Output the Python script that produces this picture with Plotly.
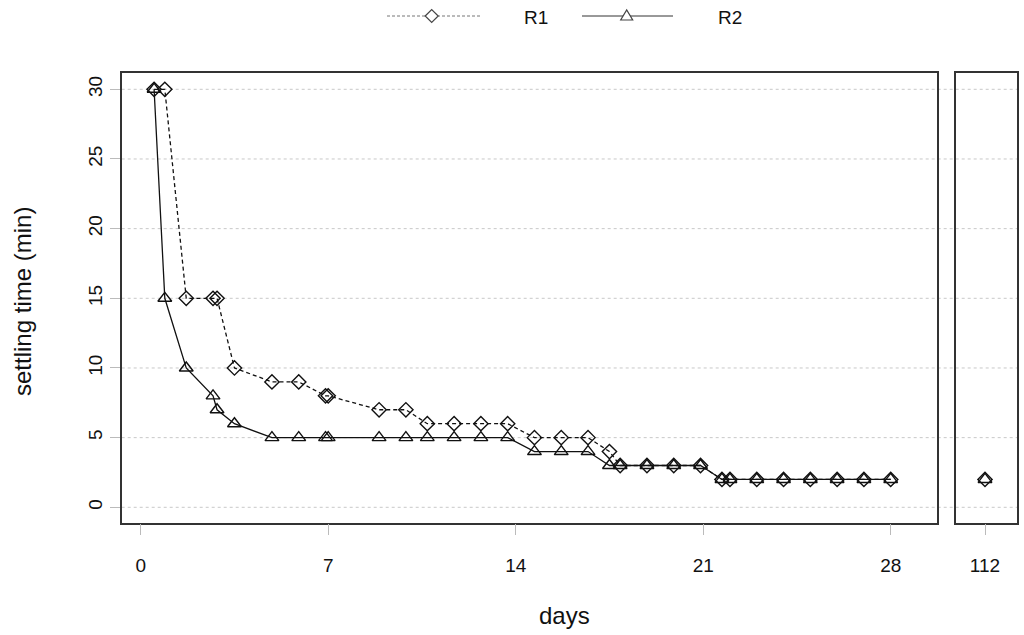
import plotly.graph_objects as go

# ---- data ----
days = [0.5, 0.9, 1.7, 2.7, 2.85, 3.5, 4.9, 5.9, 6.9, 7.0, 8.9, 9.9, 10.7, 11.7,
        12.7, 13.7, 14.7, 15.7, 16.7, 17.5, 17.9, 18.9, 19.9, 20.9, 21.7, 22.0,
        23, 24, 25, 26, 27, 28]
r1 = [30, 30, 15, 15, 15, 10, 9, 9, 8, 8, 7, 7, 6, 6, 6, 6, 5, 5, 5, 4, 3, 3, 3, 3,
      2, 2, 2, 2, 2, 2, 2, 2]
r2 = [30, 15, 10, 8, 7, 6, 5, 5, 5, 5, 5, 5, 5, 5, 5, 5, 4, 4, 4, 3, 3, 3, 3, 3,
      2, 2, 2, 2, 2, 2, 2, 2]
late_day = [112]
late_r1 = [2]
late_r2 = [2]
x_ticks = [0, 7, 14, 21, 28]
y_ticks = [0, 5, 10, 15, 20, 25, 30]
series_names = ["R1", "R2"]

W, H = 1024, 635
def px(x):
    return x / W
def py(y):
    return 1 - y / H

FONT = "Liberation Sans, Arial, sans-serif"
L1, R1p = 121.7, 937.3
L2, R2p = 955.7, 1017.3
TOP, BOT = 73.3, 522.7

fig = go.Figure()

r1_style = dict(mode="lines+markers", line=dict(color="#111", width=1.3, dash="4px,3px"),
                marker=dict(symbol="diamond-open", size=11, color="#111", line=dict(width=1.4)))
r2_style = dict(mode="lines+markers", line=dict(color="#111", width=1.3),
                marker=dict(symbol="triangle-up-open", size=12, color="#111", line=dict(width=1.4)))

fig.add_trace(go.Scatter(x=days, y=r1, name=series_names[0], xaxis="x", yaxis="y", **r1_style))
fig.add_trace(go.Scatter(x=days, y=r2, name=series_names[1], xaxis="x", yaxis="y", **r2_style))
fig.add_trace(go.Scatter(x=late_day, y=late_r1, name=series_names[0], xaxis="x2", yaxis="y2", **r1_style))
fig.add_trace(go.Scatter(x=late_day, y=late_r2, name=series_names[1], xaxis="x2", yaxis="y2", **r2_style))

ppu = (890.7 - 140.7) / 28.0
xr1 = [(L1 - 140.7) / ppu, (R1p - 140.7) / ppu]
xr2 = [112 - (985 - L2) / ppu, 112 + (R2p - 985) / ppu]
ypu = (507.3 - 89.3) / 30.0
yr = [-(BOT - 507.3) / ypu, (507.3 - TOP) / ypu]

axis_common = dict(showline=True, mirror=True, linecolor="#333", linewidth=1.5,
                   showgrid=False, zeroline=False,
                   tickfont=dict(family=FONT, size=19, color="#111"))

fig.update_layout(
    width=W, height=H,
    margin=dict(l=0, r=0, t=0, b=0),
    paper_bgcolor="white", plot_bgcolor="rgba(0,0,0,0)",
    showlegend=False,
    xaxis=dict(domain=[px(L1), px(R1p)], range=xr1, anchor="y",
               tickvals=x_ticks, ticktext=[str(v) for v in x_ticks],
               ticks="outside", ticklen=11, tickcolor="#bbb", tickwidth=1,
               ticklabelstandoff=14, **axis_common),
    yaxis=dict(domain=[py(BOT), py(TOP)], range=yr, anchor="x",
               tickvals=y_ticks, ticktext=[str(v) for v in y_ticks],
               ticks="outside", ticklen=10, tickcolor="#bbb", tickwidth=1,
               tickangle=-90, **axis_common),
    xaxis2=dict(domain=[px(L2), px(R2p)], range=xr2, anchor="y2",
                tickvals=late_day, ticktext=[str(v) for v in late_day],
                ticks="outside", ticklen=11, tickcolor="#bbb", tickwidth=1,
                ticklabelstandoff=14, **axis_common),
    yaxis2=dict(domain=[py(BOT), py(TOP)], range=yr, anchor="x2",
                showticklabels=False, ticks="", **axis_common),
)

shapes = []
# dotted horizontal gridlines across both panels and the gap
for v in y_ticks:
    shapes.append(dict(type="line", xref="paper", yref="y", x0=px(L1), x1=px(R2p), y0=v, y1=v,
                       line=dict(color="#c8c8c8", width=1, dash="dot"), layer="below"))

# manual legend
ly = py(16)
shapes.append(dict(type="line", xref="paper", yref="paper", x0=px(387), x1=px(480), y0=ly, y1=ly,
                   line=dict(color="#777", width=1, dash="3px,2px")))
shapes.append(dict(type="line", xref="paper", yref="paper", x0=px(582), x1=px(673), y0=ly, y1=ly,
                   line=dict(color="#333", width=1)))
# legend diamond
cx, cy, r = 431.7, 16, 6.5
path = "M {},{} L {},{} L {},{} L {},{} Z".format(px(cx - r), py(cy), px(cx), py(cy - r),
                                                 px(cx + r), py(cy), px(cx), py(cy + r))
shapes.append(dict(type="path", xref="paper", yref="paper", path=path,
                   fillcolor="white", line=dict(color="#444", width=1.2)))
# legend triangle
cx, cy = 626.7, 16
path = "M {},{} L {},{} L {},{} Z".format(px(cx - 6), py(cy + 4), px(cx + 6), py(cy + 4),
                                          px(cx), py(cy - 6))
shapes.append(dict(type="path", xref="paper", yref="paper", path=path,
                   fillcolor="white", line=dict(color="#444", width=1.2)))
fig.update_layout(shapes=shapes)

annotations = [
    dict(text=series_names[0], x=px(536), y=py(17), xref="paper", yref="paper", showarrow=False,
         font=dict(family=FONT, size=19, color="#111"), xanchor="center", yanchor="middle"),
    dict(text=series_names[1], x=px(730), y=py(17), xref="paper", yref="paper", showarrow=False,
         font=dict(family=FONT, size=19, color="#111"), xanchor="center", yanchor="middle"),
    dict(text="settling time (min)", x=px(22), y=py(302), xref="paper", yref="paper",
         showarrow=False, textangle=-90, font=dict(family=FONT, size=24, color="#111"),
         xanchor="center", yanchor="middle"),
    dict(text="days", x=px(564), y=py(615), xref="paper", yref="paper", showarrow=False,
         font=dict(family=FONT, size=24, color="#111"), xanchor="center", yanchor="middle"),
]
fig.update_layout(annotations=annotations)

fig.write_html("out.html", config={"displayModeBar": False},
               post_script="document.body.style.margin='0';document.body.style.overflow='hidden';")
